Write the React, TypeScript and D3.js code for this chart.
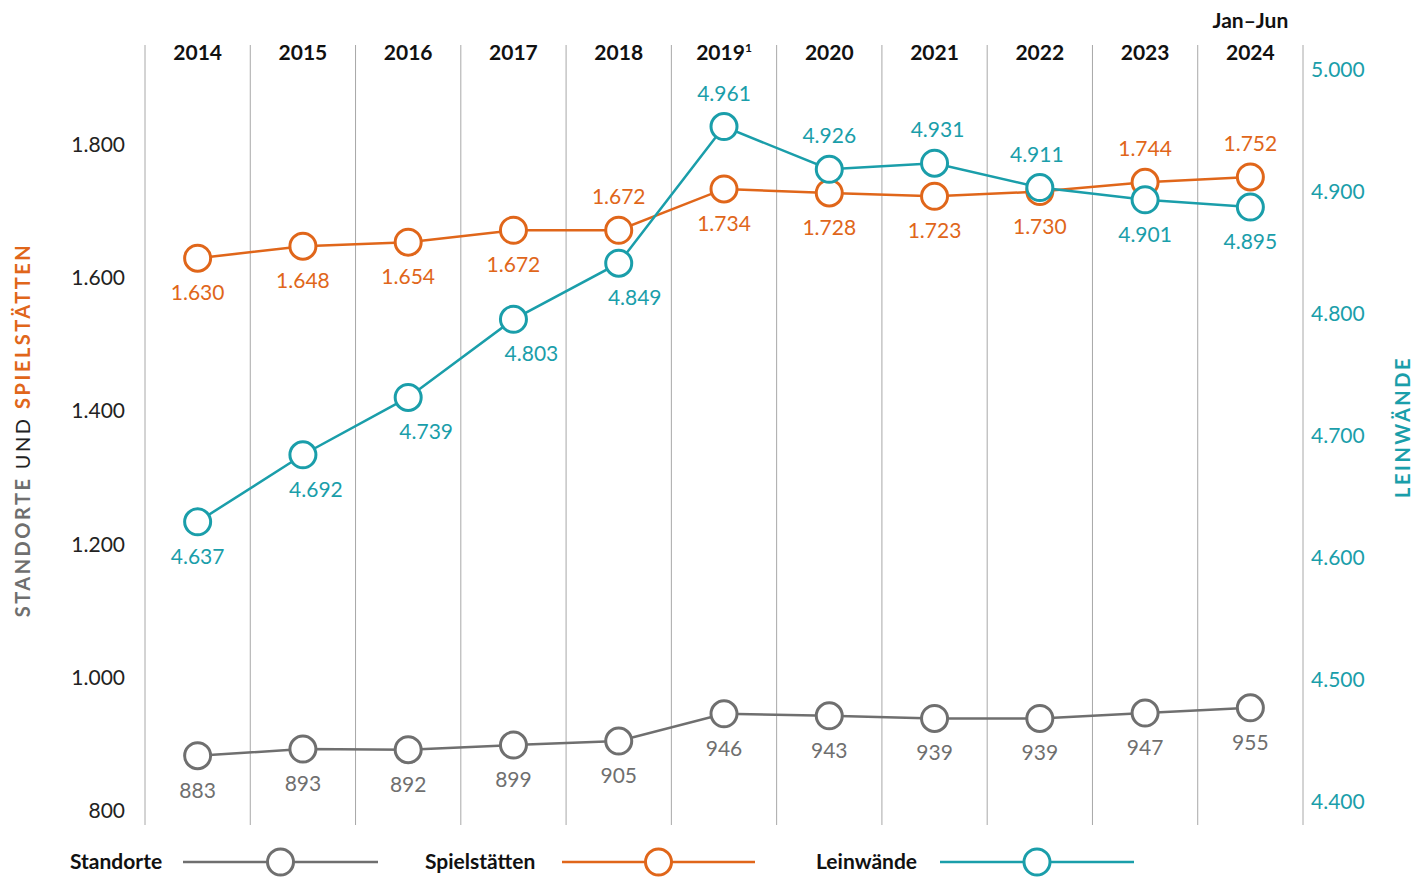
import React, { useEffect, useRef } from "react";
import * as d3 from "d3";

const years = ["2014", "2015", "2016", "2017", "2018", "2019", "2020", "2021", "2022", "2023", "2024"];
const standorte = [883, 893, 892, 899, 905, 946, 943, 939, 939, 947, 955];
const spielstaetten = [1630, 1648, 1654, 1672, 1672, 1734, 1728, 1723, 1730, 1744, 1752];
const leinwaende = [4637, 4692, 4739, 4803, 4849, 4961, 4926, 4931, 4911, 4901, 4895];
const leftTicks = [800, 1000, 1200, 1400, 1600, 1800];
const rightTicks = [4400, 4500, 4600, 4700, 4800, 4900, 5000];

// label placement: 1 = below the point, -1 = above
const spielPos = [1, 1, 1, 1, -1, 1, 1, 1, 1, -1, -1];
const leinPos = [1, 1, 1, 1, 1, -1, -1, -1, -1, 1, 1];
const leinShift = [0, 13, 18, 18, 16, 0, 0, 3, -3, 0, 0];

const GRAY = "#6f6f6f";
const ORANGE = "#e0661a";
const TEAL = "#1a9eaa";
const FONT = "Lato, 'Noto Sans', sans-serif";

const de = d3.formatLocale({ decimal: ",", thousands: ".", grouping: [3], currency: ["", "€"] });
const fmt = de.format(",d");

const App = () => {
  const ref = useRef<SVGSVGElement>(null);

  useEffect(() => {
    draw();
  });

  const draw = () => {
    const svg = d3.select(ref.current);
    svg.selectAll("*").remove();

    const x = d3.scaleBand().domain(years).range([145, 1303]);
    const cx = (i: number) => (x(years[i]) as number) + x.bandwidth() / 2;
    const yL = d3.scaleLinear().domain([800, 1800]).range([811, 145]);
    const yR = d3.scaleLinear().domain([4400, 5000]).range([811, 79]);

    // vertical grid lines
    const edges = years.map((y) => x(y) as number).concat([1303]);
    svg
      .selectAll(".grid")
      .data(edges)
      .enter()
      .append("line")
      .attr("x1", (d) => d)
      .attr("x2", (d) => d)
      .attr("y1", 45)
      .attr("y2", 825)
      .attr("stroke", "#a8a8a8")
      .attr("stroke-width", 1);

    // year headers
    const head = svg
      .selectAll(".yr")
      .data(years)
      .enter()
      .append("text")
      .attr("x", (d, i) => cx(i))
      .attr("y", 60)
      .attr("text-anchor", "middle")
      .attr("font-family", FONT)
      .attr("font-weight", "bold")
      .attr("font-size", 21)
      .attr("fill", "#111")
      .text((d) => d);
    head
      .filter((d) => d === "2019")
      .append("tspan")
      .attr("font-size", 12)
      .attr("dy", -8)
      .text("1");
    svg
      .append("text")
      .attr("x", cx(10))
      .attr("y", 28)
      .attr("text-anchor", "middle")
      .attr("font-family", FONT)
      .attr("font-weight", "bold")
      .attr("font-size", 21)
      .attr("fill", "#111")
      .text("Jan–Jun");

    // left ticks
    svg
      .selectAll(".lt")
      .data(leftTicks)
      .enter()
      .append("text")
      .attr("x", 125)
      .attr("y", (d) => yL(d) + 7)
      .attr("text-anchor", "end")
      .attr("font-family", FONT)
      .attr("font-size", 21)
      .attr("fill", "#222")
      .text((d) => fmt(d));

    // right ticks
    svg
      .selectAll(".rt")
      .data(rightTicks)
      .enter()
      .append("text")
      .attr("x", 1311)
      .attr("y", (d) => yR(d) - 9 + 7)
      .attr("font-family", FONT)
      .attr("font-size", 21)
      .attr("fill", TEAL)
      .text((d) => fmt(d));

    // axis titles
    const lt = svg
      .append("text")
      .attr("transform", "translate(30,430) rotate(-90)")
      .attr("text-anchor", "middle")
      .attr("font-family", FONT)
      .attr("font-size", 20)
      .attr("letter-spacing", 2.5);
    lt.append("tspan").attr("fill", GRAY).attr("font-weight", "bold").text("STANDORTE ");
    lt.append("tspan").attr("fill", "#222").text("UND ");
    lt.append("tspan").attr("fill", ORANGE).attr("font-weight", "bold").text("SPIELSTÄTTEN");

    svg
      .append("text")
      .attr("transform", "translate(1410,427) rotate(-90)")
      .attr("text-anchor", "middle")
      .attr("font-family", FONT)
      .attr("font-size", 20)
      .attr("font-weight", "bold")
      .attr("letter-spacing", 2.5)
      .attr("fill", TEAL)
      .text("LEINWÄNDE");

    const series = [
      { data: standorte, y: yL, color: GRAY, pos: standorte.map(() => 1), shift: standorte.map(() => 0) },
      { data: spielstaetten, y: yL, color: ORANGE, pos: spielPos, shift: spielstaetten.map(() => 0) },
      { data: leinwaende, y: yR, color: TEAL, pos: leinPos, shift: leinShift },
    ];

    series.forEach((s) => {
      const line = d3
        .line<number>()
        .x((d, i) => cx(i))
        .y((d) => s.y(d));
      svg
        .append("path")
        .attr("d", line(s.data))
        .attr("fill", "none")
        .attr("stroke", s.color)
        .attr("stroke-width", 2.5);
    });

    series.forEach((s) => {
      svg
        .append("g")
        .selectAll("circle")
        .data(s.data)
        .enter()
        .append("circle")
        .attr("cx", (d, i) => cx(i))
        .attr("cy", (d) => s.y(d))
        .attr("r", 13)
        .attr("fill", "#fff")
        .attr("stroke", s.color)
        .attr("stroke-width", 3);

      svg
        .append("g")
        .selectAll("text")
        .data(s.data)
        .enter()
        .append("text")
        .attr("x", (d, i) => cx(i) + s.shift[i])
        .attr("y", (d, i) => s.y(d) + (s.pos[i] > 0 ? 42 : -26))
        .attr("text-anchor", "middle")
        .attr("font-family", FONT)
        .attr("font-size", 21)
        .attr("fill", s.color)
        .text((d) => fmt(d));
    });

    // legend
    const legend = [
      { name: "Standorte", color: GRAY, tx: 70, l0: 183, l1: 378 },
      { name: "Spielstätten", color: ORANGE, tx: 425, l0: 562, l1: 755 },
      { name: "Leinwände", color: TEAL, tx: 816, l0: 940, l1: 1134 },
    ];
    const lg = svg.append("g").selectAll("g").data(legend).enter().append("g");
    lg.append("text")
      .attr("x", (d) => d.tx)
      .attr("y", 869)
      .attr("font-family", FONT)
      .attr("font-weight", "bold")
      .attr("font-size", 21)
      .attr("fill", "#111")
      .text((d) => d.name);
    lg.append("line")
      .attr("x1", (d) => d.l0)
      .attr("x2", (d) => d.l1)
      .attr("y1", 862)
      .attr("y2", 862)
      .attr("stroke", (d) => d.color)
      .attr("stroke-width", 2.5);
    lg.append("circle")
      .attr("cx", (d) => (d.l0 + d.l1) / 2)
      .attr("cy", 862)
      .attr("r", 13)
      .attr("fill", "#fff")
      .attr("stroke", (d) => d.color)
      .attr("stroke-width", 3);
  };

  return (
    <svg
      ref={ref}
      width={1416}
      height={877}
      style={{ position: "absolute", left: 0, top: 0, background: "#fff" }}
    />
  );
};

export default App;
